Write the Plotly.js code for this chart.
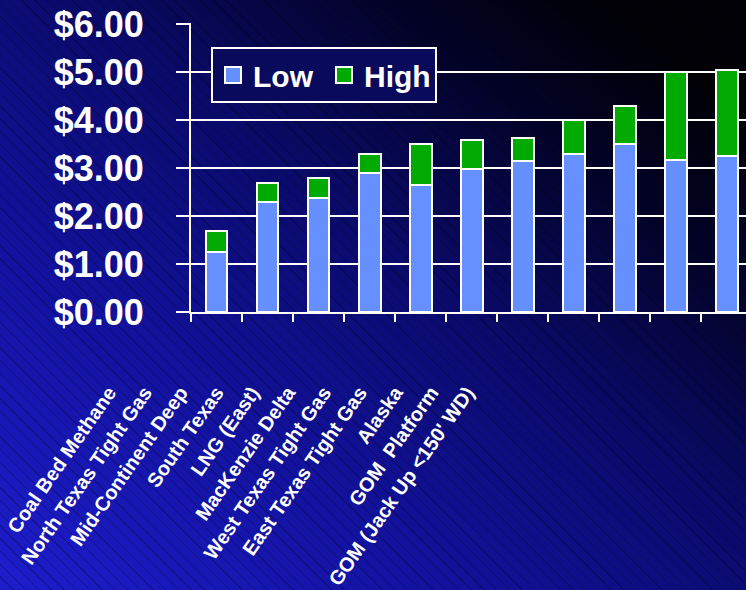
<!DOCTYPE html>
<html>
<head>
<meta charset="utf-8">
<script src="https://cdn.plot.ly/plotly-3.0.1.min.js"></script>
<style>
  html, body { margin: 0; padding: 0; }
  body {
    width: 746px; height: 590px; overflow: hidden;
    background:
      repeating-linear-gradient(45deg, rgba(0,0,20,0.28) 0px, rgba(0,0,20,0.28) 1px, rgba(0,0,0,0) 1px, rgba(0,0,0,0) 9px),
      linear-gradient(to top right, #1d1dcc 0%, #12129e 30%, #0a0a6a 55%, #03032a 75%, #000005 90%);
  }
  #chart { width: 746px; height: 590px; }
</style>
</head>
<body>
<div id="chart"></div>
<script>
const categories = [
  "Coal Bed Methane",
  "North Texas Tight Gas",
  "Mid-Continent Deep",
  "South Texas",
  "LNG (East)",
  "MacKenzie Delta",
  "West Texas Tight Gas",
  "East Texas Tight Gas",
  "Alaska",
  "GOM  Platform",
  "GOM (Jack Up <150' WD)"
];
const lowValues  = [1.25, 2.30, 2.38, 2.90, 2.65, 2.98, 3.14, 3.30, 3.50, 3.17, 3.26];
const totalValues = [1.69, 2.69, 2.80, 3.30, 3.50, 3.58, 3.63, 4.00, 4.29, 5.00, 5.04];
const highValues = totalValues.map((t, i) => +(t - lowValues[i]).toFixed(2));
const yTickVals = [0, 1, 2, 3, 4, 5, 6];
const yTickText = ["$0.00", "$1.00", "$2.00", "$3.00", "$4.00", "$5.00", "$6.00"];
const seriesNames = ["Low", "High"];
const seriesColors = ["#6690ff", "#00aa00"];

const white = "#ffffff";
const labelIdx = categories.map((c, i) => i);
const seriesValues = [lowValues, highValues];

const traces = [];
seriesNames.forEach((name, k) => {
  traces.push({
    type: "bar", name: name, x: categories, y: seriesValues[k],
    width: 0.43, legendgroup: name, showlegend: false,
    marker: { color: seriesColors[k], line: { color: white, width: 2 } },
    hoverinfo: "skip"
  });
});
// legend entries (bigger square keys, as in the reference)
seriesNames.forEach((name, k) => {
  traces.push({
    type: "scatter", mode: "markers", name: name, legendgroup: name,
    x: [null], y: [null], showlegend: true, hoverinfo: "skip",
    marker: { symbol: "square", size: 16, color: seriesColors[k], line: { color: white, width: 2 } }
  });
});
// carrier for the rotated category labels
traces.push({
  type: "scatter", mode: "markers", x: labelIdx, y: labelIdx.map(() => 0),
  xaxis: "x2", yaxis: "y2", showlegend: false, hoverinfo: "skip",
  marker: { opacity: 0, size: 1 }
});

const layout = {
  width: 746, height: 590,
  margin: { l: 0, r: 0, t: 23, b: 278, pad: 0 },
  paper_bgcolor: "rgba(0,0,0,0)",
  plot_bgcolor: "rgba(0,0,0,0)",
  barmode: "stack",
  font: { family: "Liberation Sans, Arial, sans-serif", color: white },
  showlegend: true,
  legend: {
    orientation: "h",
    x: 211 / 746, xanchor: "left",
    y: 0.917, yanchor: "top",
    bgcolor: "#0a0a5c",
    bordercolor: white, borderwidth: 2,
    font: { family: "Liberation Sans, Arial, sans-serif", size: 30, weight: "bold", color: white },
    itemwidth: 30,
    itemsizing: "trace",
    entrywidth: 66,
    traceorder: "normal"
  },
  xaxis: {
    type: "category",
    domain: [191 / 746, 1],
    range: [-0.5, 10.38],
    showticklabels: false,
    showline: true, linecolor: white, linewidth: 2,
    ticks: "outside", tickson: "boundaries", ticklen: 8, tickcolor: white, tickwidth: 2,
    showgrid: false, zeroline: false,
    fixedrange: true
  },
  xaxis2: {
    type: "linear",
    domain: [91 / 746, 485 / 746],
    range: [-0.5, categories.length - 0.5],
    anchor: "free", position: 0,
    tickmode: "array",
    tickvals: labelIdx,
    ticktext: categories,
    tickangle: -55,
    ticks: "",
    showline: false, showgrid: false, zeroline: false,
    ticklabelstandoff: 64,
    tickfont: { family: "Liberation Sans, Arial, sans-serif", size: 20, weight: "bold", color: white },
    fixedrange: true
  },
  yaxis2: {
    visible: false, overlaying: "y", anchor: "x2", range: [0, 1], fixedrange: true
  },
  yaxis: {
    range: [0, 6.02],
    anchor: "x",
    tickmode: "array",
    tickvals: yTickVals,
    ticktext: yTickText,
    tickfont: { family: "Liberation Sans, Arial, sans-serif", size: 36, weight: "bold", color: white },
    showline: true, linecolor: white, linewidth: 2,
    ticks: "outside", ticklen: 13, tickcolor: white, tickwidth: 2,
    ticklabelstandoff: 25,
    showgrid: true, gridcolor: white, gridwidth: 2,
    zeroline: false,
    fixedrange: true
  }
};

Plotly.newPlot("chart", traces, layout, { displayModeBar: false, staticPlot: true });
</script>
</body>
</html>
